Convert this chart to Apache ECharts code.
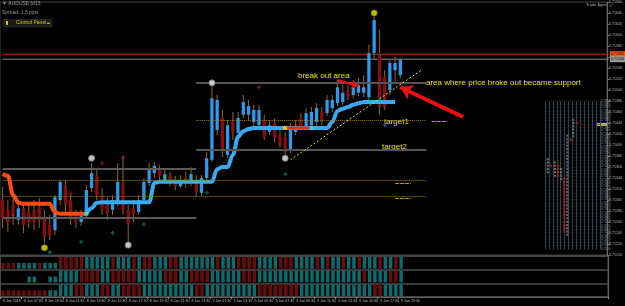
<!DOCTYPE html>
<html>
<head>
<meta charset="utf-8">
<script src="https://cdn.jsdelivr.net/npm/echarts@6.0.0/dist/echarts.min.js"></script>
<style>
  html, body { margin: 0; padding: 0; background: #000; }
  #chart { width: 625px; height: 306px; }
</style>
</head>
<body>
<div id="chart"></div>
<script>
// AUDUSD, 30 min bars from 8 Jan 05:30 to 9 Jan 19:30
var opens = [0.71300,0.71282,0.71291,0.71264,0.71285,0.71278,0.71282,0.71287,0.71267,0.71255,
  0.71245,0.71300,0.71327,0.71300,0.71271,0.71260,0.71275,0.71322,0.71344,0.71309,
  0.71295,0.71282,0.71295,0.71331,0.71282,0.71285,0.71278,0.71300,0.71331,0.71349,
  0.71358,0.71336,0.71344,0.71336,0.71325,0.71340,0.71331,0.71336,0.71313,0.71340,
  0.71373,0.71427,0.71449,0.71382,0.71442,0.71422,0.71455,0.71455,0.71442,0.71436,
  0.71445,0.71424,0.71440,0.71418,0.71415,0.71391,0.71424,0.71449,0.71433,0.71436,
  0.71442,0.71460,0.71458,0.71467,0.71476,0.71478,0.71500,0.71491,0.71495,0.71495,
  0.71487,0.71567,0.71564,0.71524,0.71500,0.71536,0.71527];
var closes = [0.71267,0.71260,0.71273,0.71285,0.71255,0.71260,0.71260,0.71264,0.71233,0.71236,
  0.71305,0.71333,0.71291,0.71267,0.71260,0.71271,0.71318,0.71349,0.71309,0.71282,
  0.71276,0.71300,0.71333,0.71282,0.71255,0.71273,0.71300,0.71333,0.71358,0.71362,
  0.71344,0.71347,0.71333,0.71325,0.71336,0.71329,0.71347,0.71315,0.71340,0.71376,
  0.71485,0.71482,0.71391,0.71436,0.71422,0.71449,0.71478,0.71471,0.71464,0.71464,
  0.71415,0.71436,0.71413,0.71400,0.71387,0.71433,0.71435,0.71433,0.71458,0.71460,
  0.71467,0.71445,0.71482,0.71482,0.71505,0.71495,0.71487,0.71505,0.71509,0.71505,
  0.71567,0.71627,0.71469,0.71469,0.71549,0.71549,0.71555];
var lows = [0.71249,0.71242,0.71255,0.71255,0.71240,0.71249,0.71245,0.71249,0.71222,0.71227,
  0.71236,0.71291,0.71278,0.71255,0.71249,0.71253,0.71267,0.71315,0.71300,0.71273,
  0.71264,0.71273,0.71289,0.71273,0.71224,0.71260,0.71273,0.71293,0.71325,0.71340,
  0.71336,0.71331,0.71325,0.71318,0.71322,0.71322,0.71325,0.71305,0.71307,0.71336,
  0.71369,0.71418,0.71378,0.71376,0.71409,0.71415,0.71449,0.71445,0.71433,0.71431,
  0.71409,0.71418,0.71405,0.71395,0.71382,0.71385,0.71418,0.71427,0.71427,0.71431,
  0.71435,0.71436,0.71453,0.71460,0.71471,0.71473,0.71482,0.71485,0.71489,0.71487,
  0.71482,0.71555,0.71455,0.71464,0.71491,0.71515,0.71522];
var highs = [0.71324,0.71300,0.71309,0.71300,0.71295,0.71291,0.71300,0.71304,0.71282,0.71273,
  0.71309,0.71336,0.71336,0.71309,0.71282,0.71282,0.71327,0.71367,0.71355,0.71322,
  0.71304,0.71309,0.71367,0.71378,0.71291,0.71300,0.71309,0.71340,0.71367,0.71369,
  0.71364,0.71355,0.71351,0.71344,0.71345,0.71351,0.71360,0.71345,0.71345,0.71387,
  0.71513,0.71491,0.71464,0.71445,0.71460,0.71460,0.71491,0.71482,0.71473,0.71473,
  0.71455,0.71445,0.71449,0.71427,0.71424,0.71440,0.71445,0.71458,0.71467,0.71469,
  0.71476,0.71469,0.71491,0.71491,0.71518,0.71509,0.71509,0.71518,0.71522,0.71527,
  0.71582,0.71633,0.71609,0.71536,0.71555,0.71560,0.71558];

// trailing stop line (orange = short, blue = long)
var trailOrange = [0.71347,0.71344,0.71309,0.71295,0.71293,0.71293,0.71293,0.71293,0.71293,0.71293,
  0.71278,0.71275,0.71275,0.71275,0.71275,0.71275,0.71275];
var trailBlue = [null,null,null,null,null,null,null,null,null,null,null,null,null,null,null,null,
  0.71275,0.71285,0.71295,0.71296,0.71296,0.71296,0.71296,0.71296,0.71296,0.71296,0.71296,0.71296,0.71296,
  0.71331,0.71333,0.71333,0.71333,0.71333,0.71333,0.71333,0.71333,0.71333,0.71333,0.71333,0.71333,
  0.71356,0.71360,0.71360,0.71382,0.71415,0.71425,0.71429,
  0.71431,0.71431,0.71431,0.71431,0.71431,0.71431,0.71431,0.71431,0.71431,0.71431,0.71431,0.71431,0.71431,0.71431,0.71431,
  0.71442,0.71462,0.71466,0.71469,0.71473,0.71476,
  0.71478,0.71478,0.71478,0.71478,0.71478,0.71478,0.71478];
var trailRed = [[54, 0.71431], [59, 0.71431]];

var fractalsYellow = [[8, 0.71213], [71, 0.71640]];
var fractalsWhite = [[17, 0.71376], [24, 0.71218], [40, 0.71513], [54, 0.71376]];
var crossRed = [[2, 0.71273], [19, 0.71367], [23, 0.71378], [13, 0.71311], [49, 0.71505]];
var crossTeal = [[15, 0.71224], [21, 0.71240], [27, 0.71256], [39, 0.71313], [9, 0.71205], [54, 0.71347], [73, 0.71436]];

// lower panel: T/R = teal/red full bar, t/r = short bar, _ = empty
var stripeRows = [
  'rrrttttrtttRRRRRTTTTTRTTTRTRRTTTRRTTTTTTTRTTTRRRRTTTTRRRTTTTRTRTTRTTRTTTRTTRT',
  '_____tt__ttTTTTRRRRTTRRRRRTTTTTRRRTTRRRRTTTTTTRRRTTTTTTTTTTTTTTTTTTTTRTTTTRRT',
  'rrrrrrrrrttTTTRRTTTRRTTRRRRTTTTTTTTTTRRTTTTTTTTTTRRRRRRRRTTTTTTTTTTTTTTRRTTTT'
];

// price profile on the right: [column, fromRow, toRow, 1 = gray / 0 = red]
var profileRuns = [[0.7, 23, 28, 1], [1.5, 25, 26, 0], [2.5, 22, 27, 1], [3.3, 22, 26, 0], [4.1, 21, 25, 1],
  [4.9, 5, 22, 0], [5.7, 4, 35, 1], [6.6, 33, 34, 0], [7.2, 34, 40, 1], [8.1, 38, 39, 0]];

var tickLabels = ['8 Jan 2019','8 Jan 07:30','8 Jan 09:30','8 Jan 11:30','8 Jan 13:30','8 Jan 15:30',
  '8 Jan 17:30','8 Jan 19:30','8 Jan 21:30','8 Jan 23:30','9 Jan 01:30','9 Jan 03:30','9 Jan 05:30',
  '9 Jan 07:30','9 Jan 09:30','9 Jan 11:30','9 Jan 13:30','9 Jan 15:30','9 Jan 17:30','9 Jan 19:30'];

var bidPrice = 0.71556;
var askPrice = 0.71565;

var cats = [];
for (var k = 0; k < 116; k++) cats.push(String(k));

var candles = opens.map(function (o, i) { return [i, o, closes[i], lows[i], highs[i]]; });

var stripes = [];
stripeRows.forEach(function (s, row) {
  for (var i = 0; i < s.length; i++) {
    var c = s[i];
    if (c === '_') continue;
    var teal = (c === 'T' || c === 't') ? 1 : 0;
    var full = (c === 'T' || c === 'R') ? 1 : 0.5;
    stripes.push([i, 2 - row, teal, full]);
  }
});

function renderCandle(params, api) {
  var i = api.value(0);
  var o = api.coord([i, api.value(1)]);
  var c = api.coord([i, api.value(2)]);
  var l = api.coord([i, api.value(3)]);
  var h = api.coord([i, api.value(4)]);
  var w = api.size([1, 0])[0] * 0.62;
  var up = api.value(2) >= api.value(1);
  var top = Math.min(o[1], c[1]);
  var ht = Math.max(Math.abs(o[1] - c[1]), 1);
  return {
    type: 'group',
    children: [
      { type: 'line', shape: { x1: h[0], y1: h[1], x2: l[0], y2: l[1] }, style: { stroke: '#8d6a1f', lineWidth: 1 } },
      { type: 'rect', shape: { x: o[0] - w / 2, y: top, width: w, height: ht }, style: { fill: up ? '#2b9cf0' : '#8c0c0c' } }
    ]
  };
}

function renderStripe(params, api) {
  var i = api.value(0), r = api.value(1);
  var lo = api.coord([i, r]);
  var hi = api.coord([i, r + 1]);
  var w = api.size([1, 0])[0] * 0.66;
  var h = (lo[1] - hi[1] - 2) * api.value(3);
  return {
    type: 'rect',
    shape: { x: lo[0] - w / 2, y: lo[1] - 1 - h, width: w, height: h },
    style: { fill: api.value(2) ? '#0c6b6d' : '#6a0c0c' }
  };
}

function renderRun(params, api) {
  var a = api.coord([api.value(0), api.value(1)]);
  var b = api.coord([api.value(0), api.value(2)]);
  return {
    type: 'line',
    shape: { x1: a[0], y1: a[1], x2: b[0], y2: b[1] },
    style: { stroke: api.value(3) ? '#5e6e7c' : '#b41818', lineWidth: 2.2, lineDash: [2, 1.3] }
  };
}

function level(price, from, to, color, width, type) {
  return [
    { coord: [from, price], lineStyle: { color: color, width: width, type: type } },
    { coord: [to, price] }
  ];
}

// bid / ask lines drawn as plain line series with the price box as end label
function priceSeries(name, price, color, boxColor) {
  return {
    name: name, type: 'line', xAxisIndex: 0, yAxisIndex: 0, showSymbol: false, silent: true, z: 2,
    data: [[-0.5, price], [115.5, price]],
    lineStyle: { color: color, width: 1 },
    clip: false,
    endLabel: { show: true, formatter: price.toFixed(5), color: '#000', backgroundColor: boxColor,
      fontSize: 3.6, padding: [1, 1], distance: 1, fontFamily: 'Liberation Sans' }
  };
}

var dotted = '#a27a20';
var levelLines = [
  level(0.71513, 37, 80.5, '#555', 2, 'solid'),
  level(0.71391, 37, 80.5, '#555', 2, 'solid'),
  level(0.71356, -0.5, 37, '#5a5a5a', 2, 'solid'),
  level(0.71267, -0.5, 37, '#5a5a5a', 2, 'solid'),
  level(0.71445, 37, 80.5, dotted, 1, 'dotted'),
  level(0.71335, -0.5, 80.5, dotted, 1, 'dotted'),
  level(0.71307, -0.5, 80.5, dotted, 1, 'dotted'),
  level(0.71444, 81.5, 85, '#c89a20', 1, [4, 1]),
  level(0.71331, 75.2, 78.4, '#c89a20', 1, [4, 1]),
  level(0.71304, 75.2, 78.4, '#c89a20', 1, [4, 1]),
  [
    { coord: [54.7, 0.71373], lineStyle: { color: '#e6e600', width: 1, type: [2, 2] } },
    { coord: [80, 0.71536] }
  ],
  [
    { coord: [64.3, 0.71518], symbolSize: 7, lineStyle: { color: '#ee1010', width: 2.5, type: 'solid' } },
    { coord: [68.1, 0.71507], symbol: 'arrow', symbolSize: 7 }
  ],
  [
    { coord: [87.8, 0.71451], lineStyle: { color: '#ee1010', width: 4, type: 'solid' } },
    { coord: [75.6, 0.71505], symbol: 'arrow', symbolSize: 12 }
  ]
];

var textStyle = '8px "Liberation Sans"';
var yellow = '#e9e400';

var chart = echarts.init(document.getElementById('chart'));
chart.setOption({
  backgroundColor: '#000',
  animation: false,
  grid: [
    { left: 0, right: 17, top: 2, height: 253, show: true, borderColor: '#444', borderWidth: 1, backgroundColor: '#000' },
    { left: 0, right: 17, top: 256, height: 41, show: true, borderColor: '#555', borderWidth: 1 },
    { left: 545, width: 55, top: 101, height: 148 }
  ],
  xAxis: [
    { type: 'category', gridIndex: 0, data: cats, axisLine: { show: false }, axisTick: { show: false }, axisLabel: { show: false } },
    { type: 'category', gridIndex: 1, data: cats,
      axisLine: { lineStyle: { color: '#666' } },
      axisTick: { show: true, length: 2, interval: function (i) { return i % 4 === 0 && i <= 76; }, lineStyle: { color: '#888' } },
      axisLabel: { interval: function (i) { return i % 4 === 0 && i <= 76; }, align: 'left', margin: 2,
        fontSize: 3.6, color: '#bbb', fontFamily: 'Liberation Sans',
        formatter: function (v, i) { return tickLabels[i / 4] || ''; } } },
    { type: 'value', gridIndex: 2, min: 0, max: 14, interval: 1,
      axisLine: { show: false }, axisTick: { show: false }, axisLabel: { show: false },
      splitLine: { lineStyle: { color: '#36414b', width: 1 } } }
  ],
  yAxis: [
    { type: 'value', gridIndex: 0, position: 'right', min: 0.712, max: 0.7166, interval: 0.0002,
      axisLine: { show: true, lineStyle: { color: '#666' } },
      axisTick: { show: true, length: 2, lineStyle: { color: '#777' } },
      splitLine: { show: false },
      axisLabel: { fontSize: 3.6, color: '#b5b5b5', margin: 2, fontFamily: 'Liberation Sans',
        formatter: function (v) { return v.toFixed(5); } } },
    { type: 'value', gridIndex: 1, position: 'right', min: 0, max: 3, interval: 1,
      axisLine: { show: true, lineStyle: { color: '#666' } }, axisTick: { show: false }, axisLabel: { show: false },
      splitLine: { lineStyle: { color: '#4c4c4c', width: 1.5 } } },
    { type: 'value', gridIndex: 2, position: 'right', min: 0, max: 45, interval: 1,
      axisLine: { show: false }, axisTick: { show: false },
      splitLine: { lineStyle: { color: '#181d22', width: 0.5 } },
      axisLabel: { fontSize: 2.6, color: '#8a98a6', margin: 1,
        formatter: function (v) { return (0.71240 + v * 0.0001).toFixed(5); } } }
  ],
  series: [
    { name: 'levels', type: 'line', xAxisIndex: 0, yAxisIndex: 0, data: [], silent: true,
      markLine: { silent: true, symbol: 'none', animation: false, label: { show: false }, data: levelLines } },
    priceSeries('ask', askPrice, '#b83208', '#ff5a10'),
    priceSeries('bid', bidPrice, '#8a8a8a', '#9a9a9a'),
    { name: 'candles', type: 'custom', xAxisIndex: 0, yAxisIndex: 0, renderItem: renderCandle,
      encode: { x: 0, y: [1, 2, 3, 4] }, data: candles, z: 3 },
    { name: 'trailOrange', type: 'line', xAxisIndex: 0, yAxisIndex: 0, data: trailOrange, showSymbol: false,
      smooth: 0.35, smoothMonotone: 'x', lineStyle: { color: '#ff4a12', width: 4 }, z: 4 },
    { name: 'trailBlue', type: 'line', xAxisIndex: 0, yAxisIndex: 0, data: trailBlue, showSymbol: false,
      smooth: 0.35, smoothMonotone: 'x', lineStyle: { color: '#38aaf2', width: 4 }, z: 4 },
    { name: 'trailRed', type: 'line', xAxisIndex: 0, yAxisIndex: 0, data: trailRed, showSymbol: false,
      lineStyle: { color: '#e82a10', width: 3 }, z: 5 },
    { name: 'junctions', type: 'scatter', xAxisIndex: 0, yAxisIndex: 0, symbol: 'rect', symbolSize: 4, z: 6,
      data: [{ value: [16, 0.71275], itemStyle: { color: '#30e0e0' } },
             { value: [54, 0.71431], itemStyle: { color: '#f0e000' } },
             { value: [59, 0.71431], itemStyle: { color: '#30e0e0' } }] },
    { name: 'fractalsYellow', type: 'scatter', xAxisIndex: 0, yAxisIndex: 0, data: fractalsYellow, symbolSize: 6, z: 6,
      itemStyle: { color: '#eaea00', borderColor: '#8a8a00', borderWidth: 1 } },
    { name: 'fractalsWhite', type: 'scatter', xAxisIndex: 0, yAxisIndex: 0, data: fractalsWhite, symbolSize: 6, z: 6,
      itemStyle: { color: '#f0f0f0', borderColor: '#888', borderWidth: 1 } },
    { name: 'crossRed', type: 'scatter', xAxisIndex: 0, yAxisIndex: 0, data: crossRed, symbolSize: 4,
      symbol: 'path://M-1,-3H1V-1H3V1H1V3H-1V1H-3V-1H-1Z', itemStyle: { color: '#9a1a1a' } },
    { name: 'crossTeal', type: 'scatter', xAxisIndex: 0, yAxisIndex: 0, data: crossTeal, symbolSize: 4,
      symbol: 'path://M-1,-3H1V-1H3V1H1V3H-1V1H-3V-1H-1Z', itemStyle: { color: '#1a7070' } },
    { name: 'indicator', type: 'custom', xAxisIndex: 1, yAxisIndex: 1, renderItem: renderStripe,
      encode: { x: 0, y: 1 }, data: stripes },
    { name: 'profile', type: 'custom', xAxisIndex: 2, yAxisIndex: 2, renderItem: renderRun,
      encode: { x: 0, y: [1, 2] }, data: profileRuns }
  ],
  graphic: [
    { type: 'text', left: 2, top: 1, style: { text: '▼ AUDUSD,M15', fill: '#9a9a9a', font: '5px "Liberation Sans"' } },
    { type: 'text', left: 2, top: 10, style: { text: 'Spread: 1.6 pips', fill: '#9a9a9a', font: '5px "Liberation Sans"' } },
    { type: 'rect', shape: { x: 3, y: 19.5, width: 49, height: 7.5 }, style: { fill: '#1b1b1b', stroke: '#3a3a3a', lineWidth: 0.5 } },
    { type: 'rect', shape: { x: 6, y: 21, width: 2, height: 4 }, style: { fill: '#d8c800' } },
    { type: 'rect', shape: { x: 47, y: 22.7, width: 3, height: 1.2 }, style: { fill: '#d8c800' } },
    { type: 'text', left: 16, top: 20.5, style: { text: 'Control Panel', fill: '#d8c800', font: '5px "Liberation Sans"' } },
    { type: 'text', left: 586, top: 3, style: { text: 'Trade Agent ⓘ', fill: '#aaa', font: '4px "Liberation Sans"' } },
    { type: 'rect', shape: { x: 597, y: 123, width: 11, height: 3 }, style: { fill: '#b8b800' } },
    { type: 'text', left: 298, top: 71.5, style: { text: 'break out area', fill: yellow, font: textStyle } },
    { type: 'text', left: 426, top: 78.5, style: { text: 'area where price broke out became support', fill: yellow, font: textStyle } },
    { type: 'text', left: 384, top: 117.5, style: { text: 'target1', fill: yellow, font: textStyle } },
    { type: 'text', left: 382, top: 142.5, style: { text: 'target2', fill: yellow, font: textStyle } }
  ]
});
</script>
</body>
</html>
